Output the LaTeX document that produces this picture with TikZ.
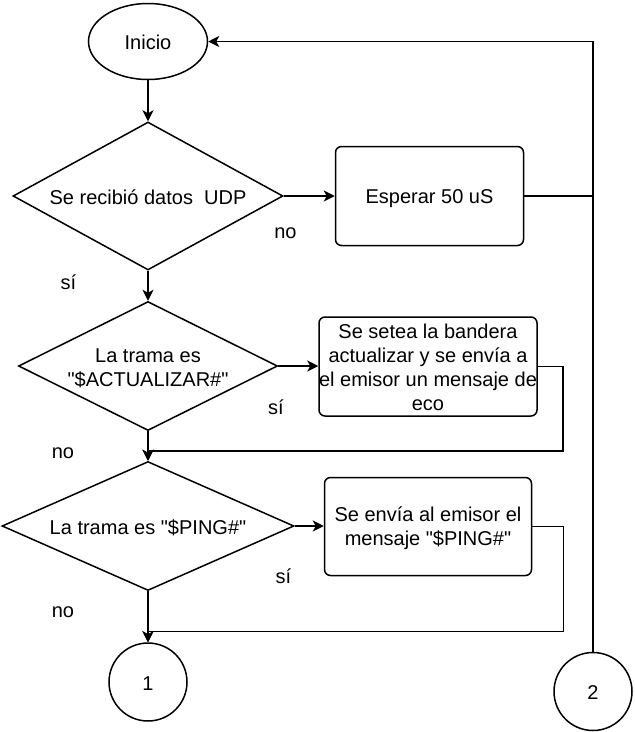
\documentclass[tikz,border=0pt]{standalone}
\usepackage{fontspec}
\setmainfont{Liberation Sans}[Ligatures=TeXOff]
\usetikzlibrary{shapes.geometric,arrows.meta,calc}
\newcommand\sst{\rule[-2.6pt]{0pt}{21.4pt}}
\begin{document}
\begin{tikzpicture}[x=1pt,y=-1pt,
  base/.style={draw, line width=1.5pt, font=\fontsize{20}{24}\selectfont, align=center, inner sep=0pt},
  term/.style={base, ellipse, minimum width=119pt, minimum height=76pt},
  decision/.style={base, diamond},
  proc/.style={base, rectangle, rounded corners=6pt},
  conn/.style={base, circle, minimum size=78pt},
  arr/.style={-{Stealth[length=11pt,width=11pt,inset=3pt]}, line width=1.5pt},
  lbl/.style={font=\fontsize{20}{24}\selectfont, inner sep=0pt}]
\useasboundingbox (0,0) rectangle (635,732);
\node[term] (ini) at (148,41.5) {\sst Inicio};
\node[decision, minimum width=270pt, minimum height=148pt, aspect=1.82] (d1) at (148,196) {\sst Se recibió datos\ \ UDP};
\node[proc, minimum width=188pt, minimum height=99pt] (r1) at (429.5,196) {\sst Esperar 50 uS};
\node[decision, minimum width=259pt, minimum height=129pt, aspect=2] (d2) at (148,366) {\sst La trama es\\\sst "\$ACTUALIZAR\#"};
\node[proc, minimum width=218pt, minimum height=99pt] (r2) at (428,366.5) {\sst Se setea la bandera\\\sst actualizar y se envía a\\\sst el emisor un mensaje de\\\sst eco};
\node[decision, minimum width=292pt, minimum height=129pt, aspect=2.25] (d3) at (148,526) {\sst La trama es "\$PING\#"};
\node[proc, minimum width=207pt, minimum height=98pt] (r3) at (428,526.5) {\sst Se envía al emisor el\\\sst mensaje "\$PING\#"};
\node[conn] (c1) at (148,682) {\sst 1};
\node[conn] (c2) at (593,691.5) {\sst 2};
% labels
\node[lbl] (l1) at (285.5,233) {no};
\node[lbl] (l2) at (68.5,282) {sí};
\node[lbl] (l3) at (276,407) {sí};
\node[lbl] (l4) at (63,453) {no};
\node[lbl] (l5) at (283.5,576.5) {sí};
\node[lbl] (l6) at (63,612) {no};
% connectors
\draw[arr] (ini.south) -- (d1.north);
\draw[arr] (d1.east) -- (d1.east -| r1.west);
\draw[arr] (d1.south) -- (d2.north);
\draw[arr] (d2.east) -- (d2.east -| r2.west);
\draw[arr] (d2.south) -- (d3.north);
\draw[arr] (d3.east) -- (d3.east -| r3.west);
\draw[arr] (d3.south) -- (c1.north);
\draw[arr] (r2.east) -- ++(25,0) |- ($(d3.north)+(0,-10)$) -- (d3.north);
\draw[arr] (r3.east) -- ++(31,0) |- ($(c1.north)+(0,-11)$) -- (c1.north);
\draw[line width=1.5pt] (r1.east) -- (r1.east -| c2.north);
\draw[arr] (c2.north) |- (ini.east);
\end{tikzpicture}
\end{document}
